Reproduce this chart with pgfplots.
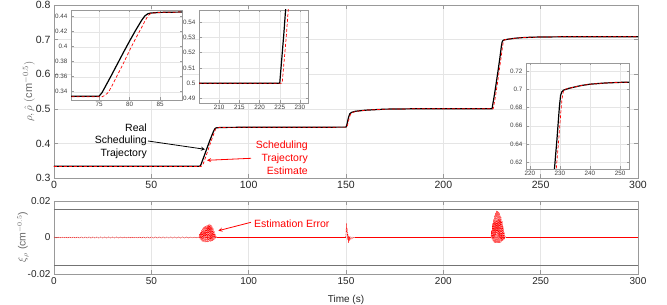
\documentclass[border=0pt]{standalone}
\usepackage{fontspec}
\setmainfont{Liberation Sans}
\usepackage{pgfplots}
\pgfplotsset{compat=1.18}
\usepackage{pgfplotstable}

\definecolor{axgray}{gray}{0.6}
\definecolor{gridgray}{gray}{0.9}
\definecolor{labgray}{gray}{0.4}
\definecolor{boundgray}{gray}{0.45}

\pgfplotstableread{
t v
0 0.334
75 0.334
75.5 0.339
76 0.3465
77 0.3615
78 0.377
79 0.3925
80 0.4075
81 0.422
82 0.4355
82.5 0.441
83 0.444
83.5 0.445
85 0.4458
88 0.4462
100 0.4466
150 0.447
150.5 0.455
151 0.468
151.5 0.479
152 0.486
153 0.490
155 0.493
160 0.496
170 0.499
185 0.5
225 0.5
226 0.532
227 0.568
228 0.606
229 0.645
229.8 0.680
230.2 0.693
230.6 0.697
231.2 0.699
233 0.701
235 0.7025
237 0.704
240 0.7055
245 0.7068
250 0.7075
260 0.708
300 0.708
}\rhotab

\pgfplotstableread{
t v
0 0.3332
75.5 0.3332
76 0.3355
76.5 0.339
77 0.346
78 0.362
79 0.378
80 0.395
81 0.411
82 0.426
82.5 0.434
83 0.441
83.5 0.4447
85 0.4458
88 0.4462
100 0.4466
150.3 0.447
150.8 0.453
151.3 0.465
151.8 0.476
152.3 0.484
153.3 0.489
155 0.4925
160 0.496
170 0.499
185 0.5
225.6 0.5
226.6 0.530
227.6 0.566
228.6 0.606
229.6 0.645
230.3 0.675
230.7 0.690
231.2 0.6985
231.8 0.700
233 0.701
235 0.7025
237 0.704
240 0.7055
245 0.7068
250 0.7075
260 0.708
300 0.708
}\rhohattab

\pgfplotstableread{
t e
0 0.0003
1 -0.0003
2 0.0003
3 -0.0003
4 0.0003
5 -0.0003
6 0.0003
7 -0.0003
8 0.0003
9 -0.0003
10 0.0003
11 -0.0003
12 0.0003
13 -0.0003
14 0.0003
15 -0.0003
16 0.0003
17 -0.0003
18 0.0003
19 -0.0003
20 0.0003
21 -0.0003
22 0.0003
23 -0.0003
24 0.0003
25 -0.0003
26 0.0003
27 -0.0003
28 0.0003
29 -0.0003
30 0.0003
31 -0.0003
32 0.0003
33 -0.0003
34 0.0003
35 -0.0003
36 0.0003
37 -0.0003
38 0.0003
39 -0.0003
40 0.0003
41 -0.0003
42 0.0003
43 -0.0003
44 0.0003
45 -0.0003
46 0.0003
47 -0.0003
48 0.0003
49 -0.0003
50 0.0003
51 -0.0003
52 0.0003
53 -0.0003
54 0.0003
55 -0.0003
56 0.0003
57 -0.0003
58 0.0003
59 -0.0003
60 0.0003
61 -0.0003
62 0.0003
63 -0.0003
64 0.0003
65 -0.0003
66 0.0003
67 -0.0003
68 0.0003
69 -0.0003
70 0.0003
71 -0.0003
72 0.0003
73 -0.0003
74 0.0003
74.5 0
74.75 0.002
75 -0.001
75.25 0.003
75.5 -0.0015
75.75 0.004
76 -0.002
76.25 0.005
76.5 -0.0022
76.75 0.0055
77 -0.0024
77.25 0.006
77.5 -0.0025
77.75 0.0062
78 -0.0025
78.25 0.0065
78.5 -0.0024
78.75 0.0068
79 -0.0025
79.25 0.0072
79.5 -0.0024
79.75 0.0074
80 -0.0023
80.25 0.007
80.5 -0.0022
80.75 0.0068
81 -0.002
81.25 0.006
81.5 -0.0018
81.75 0.005
82 -0.0015
82.25 0.0035
82.5 -0.001
82.75 0.002
83 -0.0006
83.25 0.0008
83.5 -0.0002
83.75 0
149.8 0
150 0.002
150.2 0.0078
150.4 0.003
150.6 0.005
150.8 -0.001
151 0.002
151.2 -0.003
151.4 0.001
151.6 -0.002
151.8 0.0005
152 -0.0015
152.5 0.0003
153 -0.0008
153.5 0.0002
154 -0.0003
154.6 0
224.5 0
224.75 0.004
225 -0.001
225.25 0.008
225.5 -0.002
225.75 0.010
226 -0.0025
226.25 0.012
226.5 -0.003
226.75 0.0135
227 -0.003
227.25 0.0147
227.5 -0.003
227.75 0.0145
228 -0.003
228.25 0.014
228.5 -0.003
228.75 0.0135
229 -0.003
229.25 0.012
229.5 -0.0028
229.75 0.011
230 -0.0025
230.25 0.009
230.5 -0.002
230.75 0.006
231 -0.0015
231.25 0.003
231.5 -0.0005
231.75 0.0005
232 0
300 0
}\errtab

\pgfplotsset{
  mybase/.style={
    scale only axis,
    axis line style={axgray, line width=0.6pt},
    tick style={axgray, line width=0.5pt},
    major tick length=4pt,
    tick align=inside,
    grid=major,
    major grid style={gridgray, line width=0.4pt},
    axis background/.style={fill=white},
    tick label style={text=black!85},
    scaled ticks=false,
    clip=true,
  },
  inset/.style={
    mybase,
    anchor=south west,
    major tick length=2.5pt,
    tick label style={font=\fontsize{6.3}{7}\selectfont, text=black!75},
    xticklabel style={yshift=1pt},
  },
  truestyle/.style={black, line width=1.2pt},
  eststyle/.style={red, line width=0.7pt, dash pattern=on 3pt off 2pt},
}

\begin{document}
\begin{tikzpicture}
\useasboundingbox (0,0) rectangle (667pt,305pt);

% main top axis
\begin{axis}[mybase,
  at={(54pt,127pt)}, anchor=south west,
  width=584pt, height=173pt,
  xmin=0, xmax=300, ymin=0.3, ymax=0.8,
  xtick={0,50,100,150,200,250,300},
  xticklabels={0,50,100,150,200,250,300},
  ytick={0.3,0.4,0.5,0.6,0.7,0.8},
  yticklabels={0.3,0.4,0.5,0.6,0.7,0.8},
  tick label style={font=\fontsize{10.5}{12}\selectfont, text=black!85},
]
\addplot[truestyle] table[x=t,y=v] {\rhotab};
\addplot[eststyle] table[x=t,y=v] {\rhohattab};
\end{axis}

% inset 1
\begin{axis}[inset,
  at={(71pt,205pt)}, width=111pt, height=90pt,
  xmin=70.4, xmax=88.6, ymin=0.329, ymax=0.449,
  xtick={75,80,85}, xticklabels={75,80,85},
  ytick={0.34,0.36,0.38,0.40,0.42,0.44},
  yticklabels={0.34,0.36,0.38,0.4,0.42,0.44},
]
\addplot[truestyle] table[x=t,y=v] {\rhotab};
\addplot[eststyle] table[x=t,y=v] {\rhohattab};
\end{axis}

% inset 2
\begin{axis}[inset,
  at={(199pt,202pt)}, width=109pt, height=93pt,
  xmin=205, xmax=232, ymin=0.487, ymax=0.548,
  xtick={210,215,220,225,230}, xticklabels={210,215,220,225,230},
  ytick={0.49,0.50,0.51,0.52,0.53,0.54},
  yticklabels={0.49,0.5,0.51,0.52,0.53,0.54},
]
\addplot[truestyle] table[x=t,y=v] {\rhotab};
\addplot[eststyle] table[x=t,y=v] {\rhohattab};
\end{axis}

% inset 3
\begin{axis}[inset,
  at={(526pt,136pt)}, width=103pt, height=106pt,
  xmin=218.7, xmax=253, ymin=0.6127, ymax=0.7287,
  xtick={220,230,240,250}, xticklabels={220,230,240,250},
  ytick={0.62,0.64,0.66,0.68,0.70,0.72},
  yticklabels={0.62,0.64,0.66,0.68,0.7,0.72},
]
\addplot[truestyle] table[x=t,y=v] {\rhotab};
\addplot[eststyle] table[x=t,y=v] {\rhohattab};
\end{axis}

% bottom axis
\begin{axis}[mybase,
  at={(54pt,31pt)}, anchor=south west,
  width=584pt, height=73pt,
  xmin=0, xmax=300, ymin=-0.02, ymax=0.02,
  xtick={0,50,100,150,200,250,300},
  xticklabels={0,50,100,150,200,250,300},
  ytick={-0.02,0,0.02},
  yticklabels={-0.02,0,0.02},
  tick label style={font=\fontsize{10}{12}\selectfont, text=black!85},
]
\addplot[boundgray, line width=0.9pt] coordinates {(0,0.0153) (300,0.0153)};
\addplot[boundgray, line width=0.9pt] coordinates {(0,-0.0153) (300,-0.0153)};
\addplot[red, line width=0.4pt, dash pattern=on 1.5pt off 0.8pt] table[x=t,y=e] {\errtab};
\addplot[red, line width=0.5pt] coordinates {(83.75,0) (149.8,0)};
\addplot[red, line width=0.5pt] coordinates {(154.6,0) (224.5,0)};
\addplot[red, line width=0.5pt] coordinates {(232,0) (300,0)};
\end{axis}

% axis labels
\node[rotate=90, text=labgray, font=\fontsize{11}{13}\selectfont] at (29pt,213.5pt)
  {$\rho,\hat{\rho}\ (\mathrm{cm}^{-0.5})$};
\node[rotate=90, text=labgray, font=\fontsize{10.5}{12}\selectfont] at (23pt,68pt)
  {$\xi_\rho$ (cm$^{-0.5}$)};
\node[anchor=base, text=black!85, font=\fontsize{10}{12}\selectfont] at (346pt,2.5pt) {Time (s)};

% annotations
\node[align=right, anchor=east, inner sep=0pt, font=\fontsize{10.5}{12.7}\selectfont] at (147pt,164pt)
  {Real\\Scheduling\\Trajectory};
\draw[-stealth, black, line width=0.8pt] (148pt,164pt) -- (205pt,155.7pt);

\node[align=right, anchor=east, inner sep=0pt, text=red, font=\fontsize{10.5}{12.7}\selectfont] at (308pt,147.3pt)
  {Scheduling\\Trajectory\\Estimate};
\draw[-stealth, red, line width=0.8pt] (251pt,146.7pt) -- (207pt,144.7pt);

\node[anchor=west, inner sep=0pt, text=red, font=\fontsize{10.5}{12.7}\selectfont] at (254pt,81pt)
  {Estimation Error};
\draw[-stealth, red, line width=0.8pt] (251pt,82.7pt) -- (218.3pt,74.3pt);
\end{tikzpicture}
\end{document}
